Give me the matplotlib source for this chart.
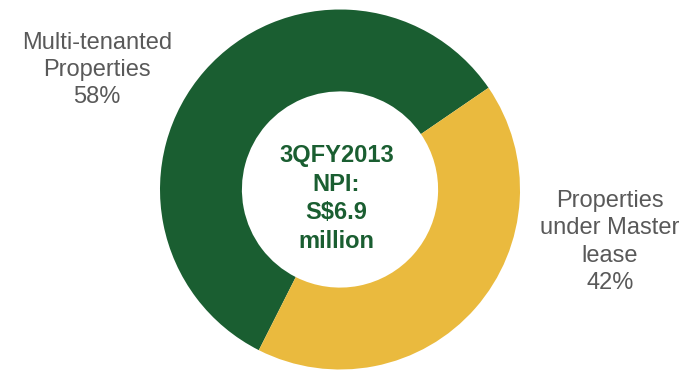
import matplotlib
matplotlib.use("Agg")
import matplotlib.pyplot as plt

categories = ["Multi-tenanted\nProperties", "Properties\nunder Master\nlease"]
values = [58, 42]
colors = ["#1a5e31", "#eaba3e"]
center_text = "3QFY2013\nNPI:\nS$6.9\nmillion"

plt.rcParams['font.family'] = ['Liberation Sans', 'DejaVu Sans']

W, H = 692, 370
fig = plt.figure(figsize=(W/100, H/100), dpi=100)
cx, cy, r = 340, 189.5, 180
ax = fig.add_axes([(cx - r)/W, (H - cy - r)/H, 2*r/W, 2*r/H])
ax.pie(values, colors=colors, startangle=34.4, counterclock=True,
       radius=1.0, wedgeprops=dict(width=0.455, edgecolor='none'))
ax.set_xlim(-1, 1)
ax.set_ylim(-1, 1)
ax.set_aspect('equal')
ax.axis('off')

ax.text(-0.02, -0.05, center_text, ha='center', va='center', fontsize=17,
        fontweight='bold', color="#1a5e31", linespacing=1.3)

lab_color = "#595959"
fig.text(97/W, 1 - 70/H, f"{categories[0]}\n{values[0]}%", ha='center', va='center',
         fontsize=17, color=lab_color, linespacing=1.3)
fig.text(610/W, 1 - 242/H, f"{categories[1]}\n{values[1]}%", ha='center', va='center',
         fontsize=17, color=lab_color, linespacing=1.3)

fig.savefig("out.png", dpi=100)
